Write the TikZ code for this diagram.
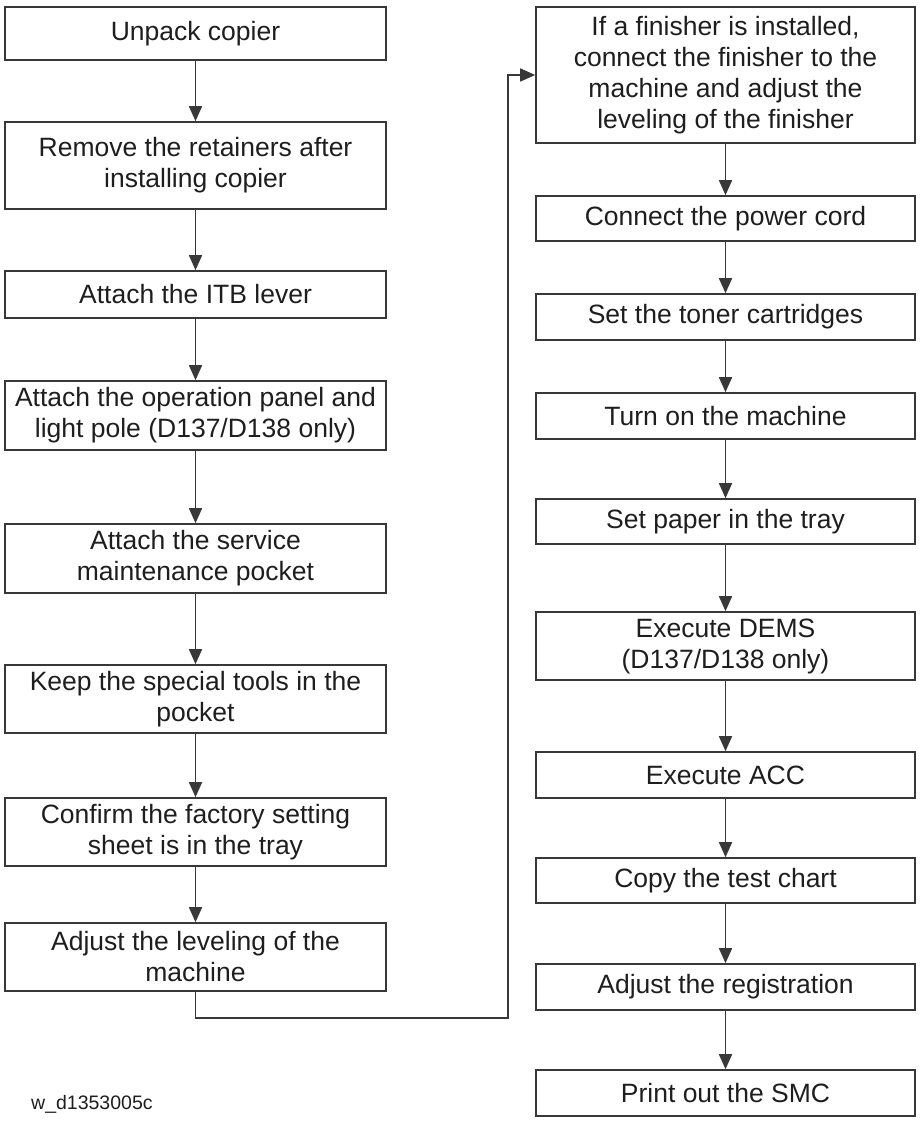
\documentclass[tikz,border=0pt]{standalone}
\usepackage{fontspec}
\setmainfont{Liberation Sans}
\usetikzlibrary{arrows.meta}
\definecolor{linec}{HTML}{383838}
\definecolor{textc}{HTML}{1E1E1E}
\tikzset{
  x=1pt, y=1pt,
  stepbox/.style={draw=linec, line width=1.6pt, rectangle, inner sep=0pt, align=center,
    text=textc, font=\fontsize{26.5}{31}\selectfont},
  lbox/.style={stepbox, minimum width=381pt},
  rbox/.style={stepbox, minimum width=379pt},
  arr/.style={draw=linec, line width=1.6pt, -{Triangle[width=13pt,length=15pt]}},
}
\begin{document}
\begin{tikzpicture}
\useasboundingbox (0,0) rectangle (922,-1123);
% left column
\node[lbox, minimum height=53pt] (b1) at (195.5,-33.5) {Unpack copier};
\node[lbox, minimum height=87pt] (b2) at (195.5,-165.5) {Remove the retainers after\\installing copier};
\node[lbox, minimum height=47pt] (b3) at (195.5,-294.5) {Attach the ITB lever};
\node[lbox, minimum height=69pt] (b4) at (195.5,-415.5) {Attach the operation panel and\\light pole (D137/D138 only)};
\node[lbox, minimum height=69pt] (b5) at (195.5,-558.5) {Attach the service\\maintenance pocket};
\node[lbox, minimum height=68pt] (b6) at (195.5,-699) {Keep the special tools in the\\pocket};
\node[lbox, minimum height=68pt] (b7) at (195.5,-832) {Confirm the factory setting\\sheet is in the tray};
\node[lbox, minimum height=68pt] (b8) at (195.5,-957) {Adjust the leveling of the\\machine};
% right column
\node[rbox, minimum height=136pt] (r1) at (725.5,-75) {If a finisher is installed,\\connect the finisher to the\\machine and adjust the\\leveling of the finisher};
\node[rbox, minimum height=45pt] (r2) at (725.5,-218.5) {Connect the power cord};
\node[rbox, minimum height=46pt] (r3) at (725.5,-317) {Set the toner cartridges};
\node[rbox, minimum height=46pt] (r4) at (725.5,-416) {Turn on the machine};
\node[rbox, minimum height=45pt] (r5) at (725.5,-521.5) {Set paper in the tray};
\node[rbox, minimum height=68pt] (r6) at (725.5,-646) {Execute DEMS\\(D137/D138 only)};
\node[rbox, minimum height=46pt] (r7) at (725.5,-775) {Execute ACC};
\node[rbox, minimum height=45pt] (r8) at (725.5,-880.5) {Copy the test chart};
\node[rbox, minimum height=46pt] (r9) at (725.5,-987) {Adjust the registration};
\node[rbox, minimum height=46pt] (r10) at (725.5,-1093) {Print out the SMC};
% label
\node[anchor=west, inner sep=0pt, text=textc, font=\fontsize{19.5}{22}\selectfont] (lbl) at (31,-1104) {w\_d1353005c};
% connectors
\draw[arr] (b1.south) -- (b2.north);
\draw[arr] (b2.south) -- (b3.north);
\draw[arr] (b3.south) -- (b4.north);
\draw[arr] (b4.south) -- (b5.north);
\draw[arr] (b5.south) -- (b6.north);
\draw[arr] (b6.south) -- (b7.north);
\draw[arr] (b7.south) -- (b8.north);
\coordinate (turn) at (508,-1018);
\draw[arr] (b8.south) |- (turn) |- (r1.west);
\draw[arr] (r1.south) -- (r2.north);
\draw[arr] (r2.south) -- (r3.north);
\draw[arr] (r3.south) -- (r4.north);
\draw[arr] (r4.south) -- (r5.north);
\draw[arr] (r5.south) -- (r6.north);
\draw[arr] (r6.south) -- (r7.north);
\draw[arr] (r7.south) -- (r8.north);
\draw[arr] (r8.south) -- (r9.north);
\draw[arr] (r9.south) -- (r10.north);
\end{tikzpicture}
\end{document}
